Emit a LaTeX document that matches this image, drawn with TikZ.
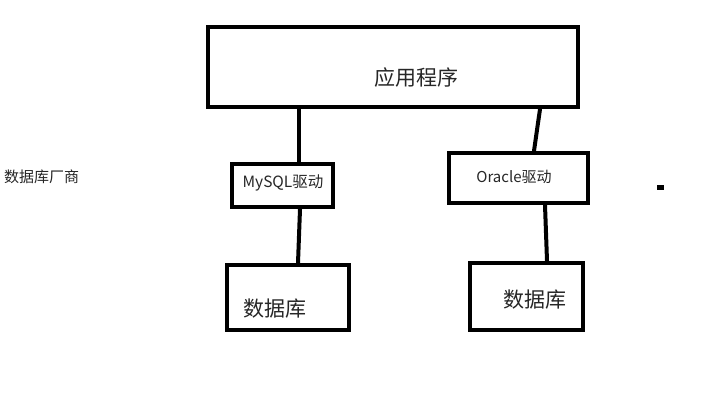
\documentclass[tikz,border=0pt]{standalone}
\usepackage{fontspec}
\setmainfont{Noto Sans CJK SC}
\usepackage{tikz}
\usetikzlibrary{positioning,calc}

\begin{document}
\begin{tikzpicture}[x=1pt,y=-1pt,
  box/.style={draw,line width=4.2pt,minimum width=#1},
  link/.style={line width=4pt,line cap=round},
  txt/.style={font=\fontsize{#1}{#1}\selectfont,inner sep=0pt,text=black!85}]
  \useasboundingbox[fill=white] (0,0) rectangle (727,409);
  % boxes
  \node[box=370pt,minimum height=80pt] (app) at (393,67) {};
  \node[txt=21] (apptext) at (416,78) {应用程序};
  \node[box=101pt,minimum height=43pt] (mysql) at (282.5,185.5) {};
  \node[txt=15.5] (mysqltext) at (283,183) {MySQL驱动};
  \node[box=139pt,minimum height=50pt] (oracle) at (518.5,178) {};
  \node[txt=15] (oracletext) at (514,177) {Oracle驱动};
  \node[box=122pt,minimum height=65pt] (dbone) at (288,297.5) {};
  \node[txt=21] (dbonetext) at (275,309) {数据库};
  \node[box=113pt,minimum height=67pt] (dbtwo) at (526.5,296.5) {};
  \node[txt=21] (dbtwotext) at (535,300) {数据库};
  \node[txt=15,anchor=west] (vendor) at (4,177) {数据库厂商};
  % connectors
  \draw[link] ([xshift=16pt]mysql.north |- app.south) -- ([xshift=16pt]mysql.north);
  \draw[link] ([xshift=17.5pt]mysql.south) -- ([xshift=10pt]dbone.north);
  \draw[link] ([xshift=21.5pt]oracle.north |- app.south) -- ([xshift=15.5pt]oracle.north);
  \draw[link] ([xshift=26.5pt]oracle.south) -- ([xshift=20.5pt]dbtwo.north);
  \fill (657,185) rectangle (664,190);
\end{tikzpicture}
\end{document}
